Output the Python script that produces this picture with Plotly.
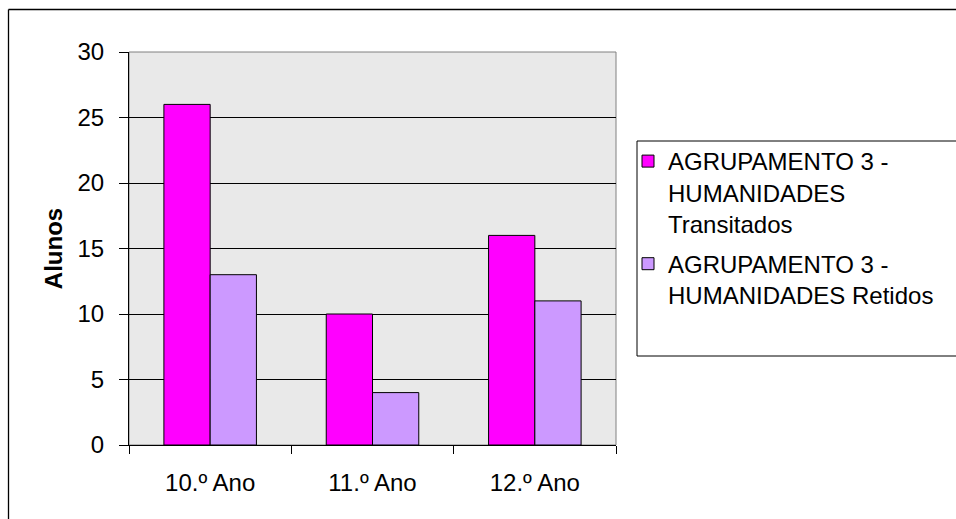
import plotly.graph_objects as go

categories = ["10.º Ano", "11.º Ano", "12.º Ano"]
transitados = [26, 10, 16]
retidos = [13, 4, 11]
series_names = [
    "AGRUPAMENTO 3 -<br>HUMANIDADES<br>Transitados",
    "AGRUPAMENTO 3 -<br>HUMANIDADES Retidos",
]
y_ticks = [0, 5, 10, 15, 20, 25, 30]

FONT = "Liberation Sans, Arial, sans-serif"
FS = 24

fig = go.Figure()
fig.add_trace(go.Bar(
    x=categories, y=transitados, name=series_names[0], legendgroup="t",
    marker=dict(color="#FF00FF", line=dict(color="black", width=1)),
))
fig.add_trace(go.Bar(
    x=categories, y=retidos, name=series_names[1], legendgroup="r",
    marker=dict(color="#CC99FF", line=dict(color="black", width=1)),
))

W, H = 956, 519
L, T, PW, PH = 129, 52, 487, 393


def px_x(px):
    return (px - L) / PW


def px_y(py):
    return (T + PH - py) / PH


def hline(x0, x1, y, width=1, color="black"):
    return dict(type="line", xref="paper", yref="paper",
                x0=px_x(x0), x1=px_x(x1), y0=px_y(y), y1=px_y(y),
                line=dict(color=color, width=width), layer="below")


def vline(x, y0, y1, width=1, color="black"):
    return dict(type="line", xref="paper", yref="paper",
                x0=px_x(x), x1=px_x(x), y0=px_y(y0), y1=px_y(y1),
                line=dict(color=color, width=width), layer="below")


shapes = [
    # outer chart border: only top and left edges show, the rest is off the page
    hline(8.5, 970, 9.5, width=1.3),
    vline(8.5, 9.5, 530, width=1.3),
    # gray frame of the plot area
    dict(type="rect", xref="paper", yref="paper", x0=0, x1=1, y0=0, y1=1,
         line=dict(color="#808080", width=1), fillcolor="rgba(0,0,0,0)", layer="below"),
    # legend box, open on the right
    hline(637, 970, 141),
    hline(637, 970, 356),
    vline(637, 141, 356),
]

fig.update_layout(
    width=W, height=H,
    margin=dict(l=L, r=W - L - PW, t=T, b=H - T - PH),
    paper_bgcolor="white",
    plot_bgcolor="#e9e9e9",
    font=dict(family=FONT, size=FS, color="black"),
    barmode="group",
    bargap=0.43,
    bargroupgap=0,
    shapes=shapes,
    legend=dict(
        x=px_x(628), y=px_y(139), xanchor="left", yanchor="top",
        bgcolor="rgba(0,0,0,0)", borderwidth=0,
        font=dict(family=FONT, size=FS, color="black"),
        valign="top", tracegroupgap=6,
    ),
    showlegend=True,
)

fig.update_xaxes(
    type="category", tickson="boundaries",
    showgrid=False, showline=True, linecolor="black", linewidth=1,
    ticks="outside", ticklen=8, tickcolor="black",
    ticklabelstandoff=16,
    tickfont=dict(family=FONT, size=FS, color="black"),
)
fig.update_yaxes(
    range=[0, 30], tickvals=y_ticks,
    showgrid=True, gridcolor="black", gridwidth=1,
    showline=True, linecolor="black", linewidth=1,
    ticks="outside", ticklen=9, tickcolor="black",
    ticklabelstandoff=10,
    zeroline=False,
    tickfont=dict(family=FONT, size=FS, color="black"),
    title=dict(text="<b>Alunos</b>", font=dict(family=FONT, size=FS, color="black"), standoff=8),
)

# drop the page margin so the figure sits flush in the window
fig.write_html(
    "out.html",
    config={"displayModeBar": False},
    post_script="document.body.style.margin='0';document.body.style.overflow='hidden';",
)
